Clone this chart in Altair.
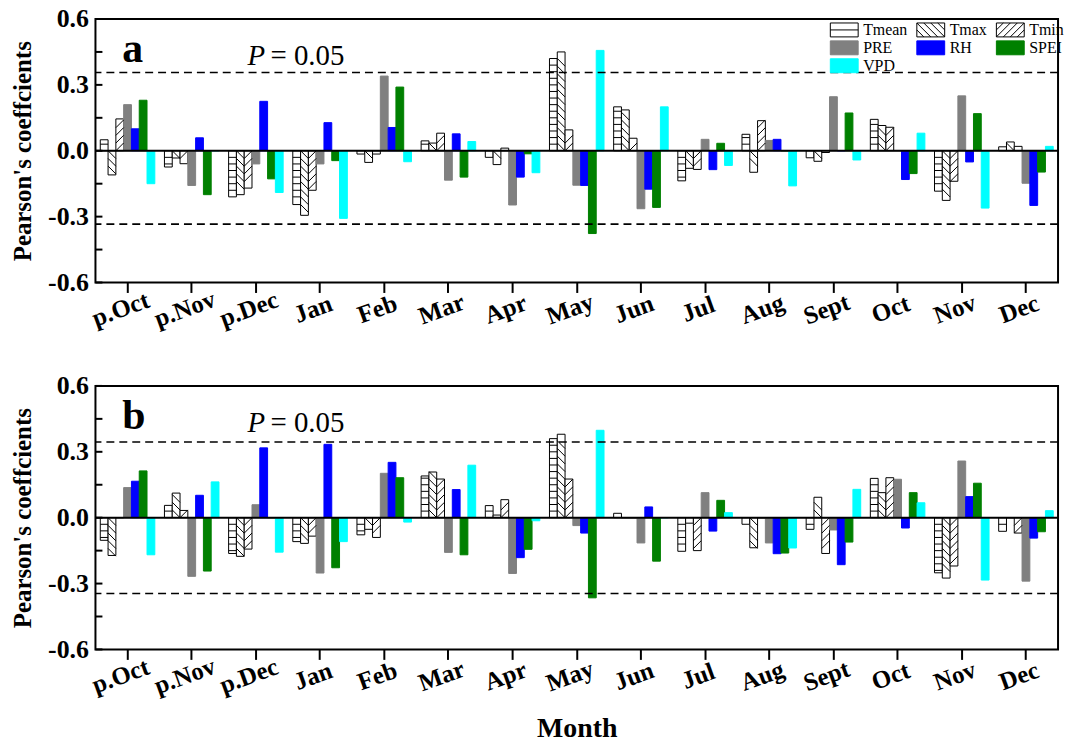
import altair as alt
import pandas as pd

months = ["p.Oct", "p.Nov", "p.Dec", "Jan", "Feb", "Mar", "Apr", "May", "Jun",
          "Jul", "Aug", "Sept", "Oct", "Nov", "Dec"]
series = ["Tmean", "Tmax", "Tmin", "PRE", "RH", "SPEI", "VPD"]
fill_colors = ["#ffffff", "#ffffff", "#ffffff", "#808080", "#0000ff", "#008000", "#00ffff"]
stroke_colors = ["#000000", "#000000", "#000000", "#808080", "#0000ff", "#008000", "#00ffff"]

# Panel a
a_Tmean = [0.05, -0.074, -0.21, -0.245, -0.015, 0.045, -0.03, 0.42, 0.20, -0.137, 0.075, -0.032, 0.143, -0.184, 0.018]
a_Tmax = [-0.11, -0.033, -0.20, -0.294, -0.053, 0.035, -0.063, 0.45, 0.186, -0.08, -0.098, -0.048, 0.115, -0.226, 0.04]
a_Tmin = [0.145, -0.059, -0.17, -0.18, -0.015, 0.08, 0.012, 0.095, 0.057, -0.085, 0.137, -0.008, 0.107, -0.139, 0.02]
a_PRE = [0.21, -0.158, -0.06, -0.06, 0.34, -0.134, -0.247, -0.157, -0.264, 0.052, 0.047, 0.246, 0.0, 0.25, -0.148]
a_RH = [0.10, 0.059, 0.225, 0.128, 0.106, 0.077, -0.12, -0.158, -0.175, -0.086, 0.052, 0.0, -0.131, -0.051, -0.249]
a_SPEI = [0.23, -0.20, -0.128, -0.045, 0.29, -0.12, -0.014, -0.377, -0.258, 0.034, 0.0, 0.172, -0.104, 0.169, -0.097]
a_VPD = [-0.15, 0.0, -0.19, -0.308, -0.05, 0.042, -0.10, 0.457, 0.20, -0.067, -0.16, -0.042, 0.08, -0.261, 0.02]

# Panel b
b_Tmean = [-0.103, 0.056, -0.163, -0.109, -0.078, 0.19, 0.055, 0.36, 0.02, -0.153, -0.03, -0.053, 0.179, -0.251, -0.062]
b_Tmax = [-0.172, 0.112, -0.176, -0.117, -0.053, 0.208, 0.012, 0.38, 0.0, -0.025, -0.137, 0.093, 0.114, -0.275, 0.0]
b_Tmin = [0.0, 0.033, -0.143, -0.084, -0.09, 0.176, 0.082, 0.176, 0.0, -0.15, 0.0, -0.163, 0.182, -0.22, -0.07]
b_PRE = [0.137, -0.267, 0.059, -0.252, 0.202, -0.158, -0.254, -0.036, -0.115, 0.114, -0.115, -0.056, 0.175, 0.258, -0.289]
b_RH = [0.166, 0.102, 0.318, 0.334, 0.252, 0.128, -0.182, -0.07, 0.049, -0.061, -0.164, -0.214, -0.047, 0.096, -0.093]
b_SPEI = [0.213, -0.243, 0.0, -0.228, 0.182, -0.169, -0.144, -0.365, -0.198, 0.079, -0.161, -0.111, 0.114, 0.157, -0.064]
b_VPD = [-0.169, 0.163, -0.157, -0.109, -0.02, 0.239, -0.014, 0.398, 0.0, 0.023, -0.138, 0.129, 0.068, -0.284, 0.032]

sig_a = [0.356, -0.334]
sig_b = [0.345, -0.345]
y_tick_values = [-0.6, -0.45, -0.3, -0.15, 0.0, 0.15, 0.3, 0.45, 0.6]
y_label_values = [-0.6, -0.3, 0.0, 0.3, 0.6]

# legend swatch shapes (rectangles with hatching)
RECT = "M-2,-1H2V1H-2Z"
legend_shapes = [
    RECT + "M-2,0H2",
    RECT + "M-2,0L-1,1M-2,-1L0,1M-1,-1L1,1M0,-1L2,1M1,-1L2,0",
    RECT + "M-2,0L-1,-1M-2,1L0,-1M-1,1L1,-1M0,1L2,-1M1,1L2,0",
    RECT, RECT, RECT, RECT,
]

FONT = "Liberation Serif"
W, H = 968, 265
BAR_PX = 7.8
UNIT_PX = H / 1.2


def long_df(vals):
    rows = []
    for s, lst in zip(series, vals):
        for m, v in zip(months, lst):
            rows.append({"month": m, "series": s, "value": v})
    return pd.DataFrame(rows)


def hatch_horizontal(name, lst, step=0.03):
    rows = []
    for m, v in zip(months, lst):
        sgn = 1 if v >= 0 else -1
        k = 1
        while k * step < abs(v) - 0.006:
            rows.append({"month": m, "series": name, "value": sgn * k * step})
            k += 1
    return pd.DataFrame(rows, columns=["month", "series", "value"])


def hatch_diag(name, lst, step=0.035):
    half = (BAR_PX / 2) / UNIT_PX
    rows = []
    for m, v in zip(months, lst):
        sgn = 1 if v >= 0 else -1
        c = half
        while c + half <= abs(v) + 0.004:
            rows.append({"month": m, "series": name, "value": sgn * c})
            c += step
    return pd.DataFrame(rows, columns=["month", "series", "value"])


def x_enc(title):
    return alt.X(
        "month:N", sort=months,
        scale=alt.Scale(domain=months, paddingInner=0.15, paddingOuter=0.075),
        axis=alt.Axis(
            labelAngle=340, labelAlign="center", labelBaseline="top", labelOffset=-11,
            labelFont=FONT, labelFontSize=25, labelFontWeight="bold", labelColor="black",
            labelPadding=5, tickSize=10, tickWidth=2, tickColor="black", domain=False,
            title=title, titleFont=FONT, titleFontSize=28, titleFontWeight="bold",
            titleColor="black", titlePadding=16,
        ),
    )


def y_enc():
    return alt.Y(
        "value:Q",
        scale=alt.Scale(domain=[-0.6, 0.6], nice=False),
        axis=alt.Axis(
            values=y_label_values,
            labelExpr="replace(format(datum.value, '.1f'), '\u2212', '-')",
            labelFont=FONT, labelFontSize=26, labelFontWeight="bold", labelColor="black",
            labelPadding=7, tickSize=0, domain=False, grid=False,
            title="Pearson's coeffcients", titleFont=FONT, titleFontSize=25,
            titleFontWeight="bold", titleColor="black", titlePadding=12,
        ),
    )


XO = alt.XOffset("series:N", scale=alt.Scale(domain=series, paddingInner=0, paddingOuter=0))
fill_scale = alt.Scale(domain=series, range=fill_colors)
stroke_scale = alt.Scale(domain=series, range=stroke_colors)
shape_scale = alt.Scale(domain=series, range=legend_shapes)


def panel(vals, sig, letter, xtitle, with_legend):
    df = long_df(vals)
    X = x_enc(xtitle)
    Y = y_enc()
    if with_legend:
        leg = alt.Legend(
            title=None, orient="none", legendX=745, legendY=3, columns=3,
            direction="horizontal",
            symbolSize=196, symbolStrokeWidth=1, labelFont=FONT, labelFontSize=16,
            labelColor="black", labelOffset=11, columnPadding=7, rowPadding=0,
            padding=0,
        )
    else:
        leg = None
    bars = alt.Chart(df).mark_bar(strokeWidth=1).encode(
        x=X, xOffset=XO, y=Y,
        fill=alt.Fill("series:N", scale=fill_scale, legend=leg),
        stroke=alt.Stroke("series:N", scale=stroke_scale, legend=leg),
    )
    h_mean = alt.Chart(hatch_horizontal("Tmean", vals[0])).mark_tick(
        color="black", thickness=1, size=BAR_PX, orient="horizontal", opacity=1
    ).encode(x=X, xOffset=XO, y=Y)
    h_max = alt.Chart(hatch_diag("Tmax", vals[1])).mark_point(
        shape="M-1,-1L1,1", size=BAR_PX ** 2, filled=False, color="black",
        strokeWidth=1, opacity=1
    ).encode(x=X, xOffset=XO, y=Y)
    h_min = alt.Chart(hatch_diag("Tmin", vals[2])).mark_point(
        shape="M-1,1L1,-1", size=BAR_PX ** 2, filled=False, color="black",
        strokeWidth=1, opacity=1
    ).encode(x=X, xOffset=XO, y=Y)
    zero = alt.Chart(pd.DataFrame({"value": [0.0]})).mark_rule(
        color="black", strokeWidth=2
    ).encode(y=Y)
    dashed = alt.Chart(pd.DataFrame({"value": sig})).mark_rule(
        color="black", strokeWidth=1.6, strokeDash=[8, 5]
    ).encode(y=Y)
    yticks = alt.Chart(pd.DataFrame({"value": y_tick_values})).mark_rule(
        color="black", strokeWidth=2
    ).encode(y=Y, x=alt.value(0), x2=alt.value(7))
    letter_t = alt.Chart(pd.DataFrame({"t": [letter]})).mark_text(
        font=FONT, fontSize=42, fontWeight="bold", align="left", baseline="alphabetic",
        color="black"
    ).encode(text="t:N", x=alt.value(27), y=alt.value(43))
    p_t = alt.Chart(pd.DataFrame({"t": ["P"]})).mark_text(
        font=FONT, fontSize=29, fontStyle="italic", align="left", baseline="alphabetic",
        color="black"
    ).encode(text="t:N", x=alt.value(153), y=alt.value(46))
    eq_t = alt.Chart(pd.DataFrame({"t": ["= 0.05"]})).mark_text(
        font=FONT, fontSize=29, align="left", baseline="alphabetic", color="black"
    ).encode(text="t:N", x=alt.value(176), y=alt.value(46))
    layers = [bars, h_mean, h_max, h_min, zero, dashed, yticks, letter_t, p_t, eq_t]
    if with_legend:
        legend_layer = alt.Chart(df).transform_filter("datum.value > 5").mark_point(
            filled=True, size=196, strokeWidth=1, opacity=1
        ).encode(
            fill=alt.Fill("series:N", scale=fill_scale, legend=leg),
            stroke=alt.Stroke("series:N", scale=stroke_scale, legend=leg),
            shape=alt.Shape("series:N", scale=shape_scale, legend=leg),
        )
        layers.append(legend_layer)
    return alt.layer(*layers).properties(width=W, height=H)


vals_a = [a_Tmean, a_Tmax, a_Tmin, a_PRE, a_RH, a_SPEI, a_VPD]
vals_b = [b_Tmean, b_Tmax, b_Tmin, b_PRE, b_RH, b_SPEI, b_VPD]

pa = panel(vals_a, sig_a, "a", None, True)
pb = panel(vals_b, sig_b, "b", "Month", False)

chart = alt.vconcat(pa, pb, spacing=39).resolve_scale(
    fill="independent", stroke="independent", shape="independent"
).properties(
    padding={"left": 9, "top": 3, "right": 0, "bottom": 0},
    background="white",
).configure_view(stroke="black", strokeWidth=2)

chart.save("out.html", embed_options={"renderer": "svg", "actions": False})
